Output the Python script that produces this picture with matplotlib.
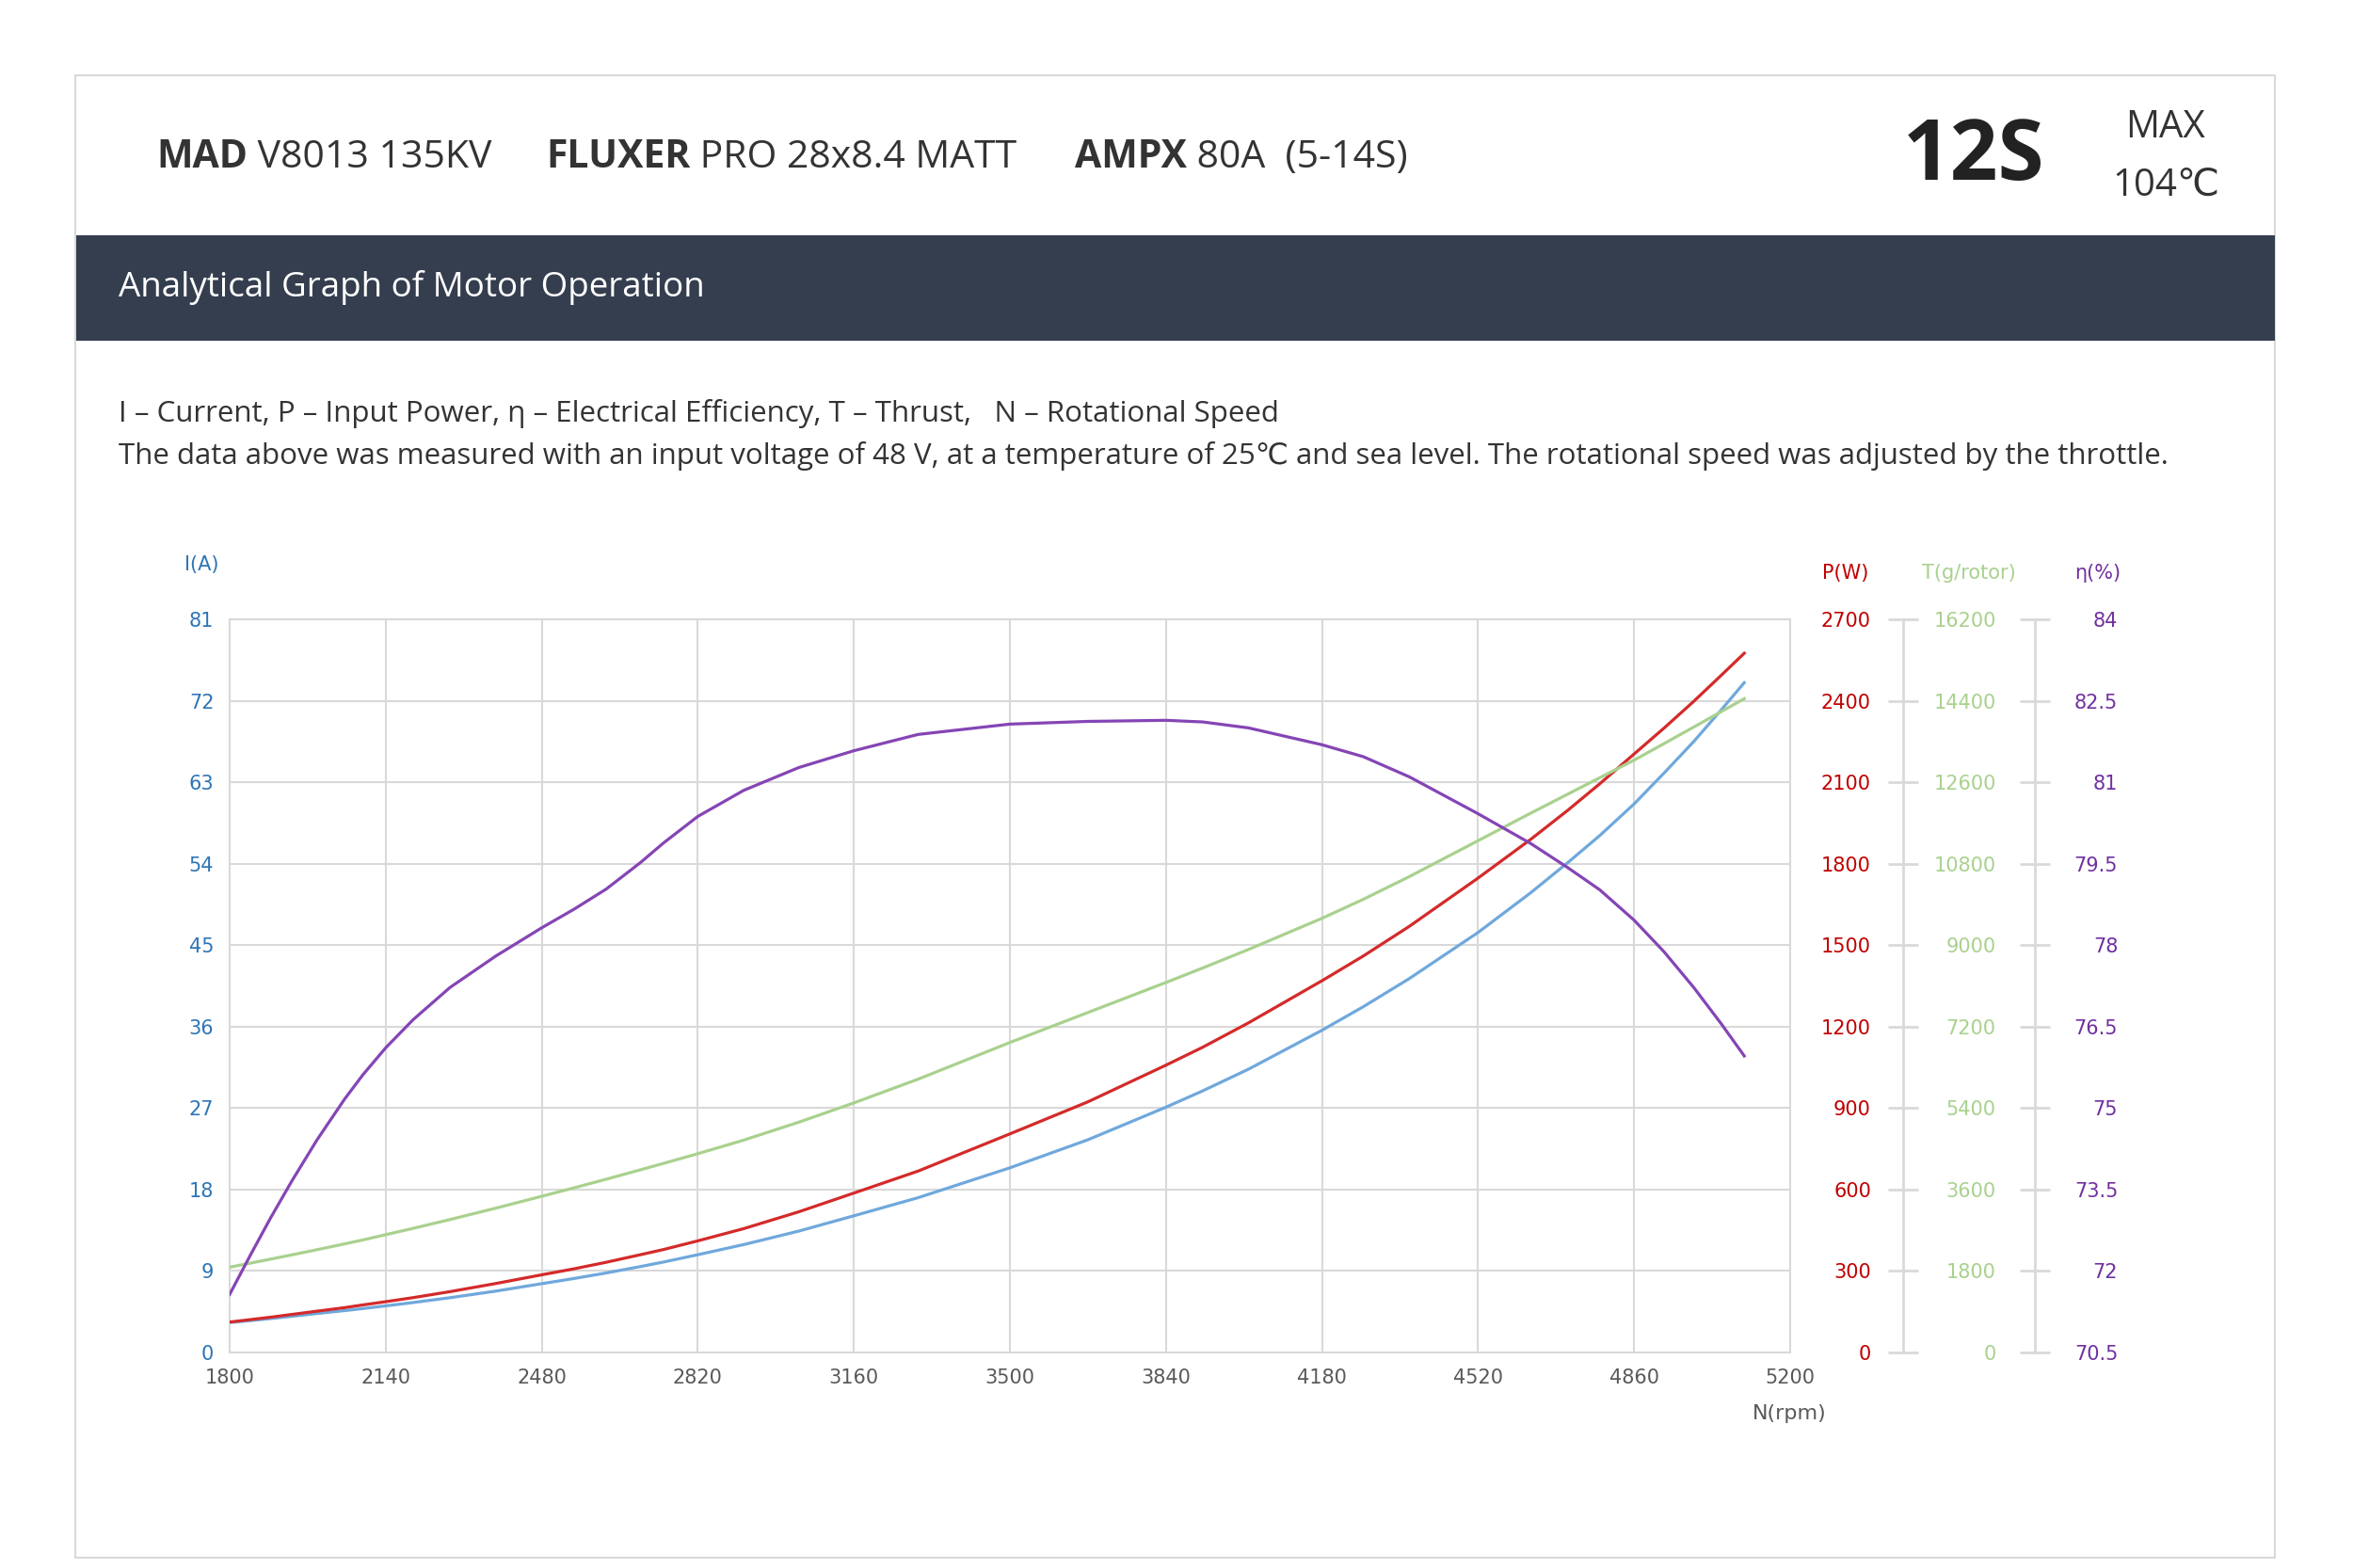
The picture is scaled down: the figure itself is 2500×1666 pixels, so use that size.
import matplotlib
matplotlib.use("Agg")
import matplotlib.pyplot as plt
import matplotlib.patches as patches

# readings (rpm)
rpm = [1800, 1845, 1890, 1935, 1990, 2050, 2090, 2140, 2200, 2280, 2380, 2480, 2550,
       2620, 2695, 2745, 2820, 2920, 3040, 3160, 3300, 3500, 3670, 3840, 3920, 4020,
       4180, 4270, 4370, 4520, 4635, 4715, 4785, 4860, 4925, 4990, 5050, 5100]
current_a = [3.3, 3.52, 3.75, 3.99, 4.3, 4.62, 4.85, 5.15, 5.52, 6.05, 6.78, 7.6, 8.17,
             8.78, 9.49, 9.99, 10.8, 11.92, 13.41, 15.1, 17.1, 20.4, 23.5, 27.1, 28.9, 31.3,
             35.6, 38.2, 41.3, 46.4, 50.8, 54.1, 57.1, 60.6, 64.0, 67.5, 71.0, 74.0]
power_w = [112, 121, 130, 140, 152, 165, 175, 187, 202, 224, 254, 286, 308,
           332, 360, 379, 411, 456, 518, 587, 668, 805, 923, 1058, 1124, 1214,
           1369, 1460, 1569, 1747, 1890, 1996, 2094, 2204, 2299, 2398, 2494, 2575]
thrust_g = [1885, 1974, 2064, 2156, 2270, 2398, 2486, 2603, 2743, 2937, 3189, 3451, 3637,
            3827, 4036, 4177, 4392, 4692, 5088, 5514, 6039, 6849, 7512, 8175, 8495, 8905,
            9593, 10013, 10513, 11308, 11918, 12334, 12698, 13088, 13452, 13819, 14161, 14446]
eff_pct = [71.57, 72.29, 72.99, 73.65, 74.41, 75.16, 75.61, 76.11, 76.63, 77.22, 77.80, 78.32, 78.66,
           79.03, 79.52, 79.88, 80.37, 80.85, 81.27, 81.58, 81.88, 82.07, 82.12, 82.14, 82.11, 82.00,
           81.69, 81.47, 81.10, 80.42, 79.87, 79.43, 79.02, 78.46, 77.88, 77.22, 76.55, 75.96]

x_ticks = [1800, 2140, 2480, 2820, 3160, 3500, 3840, 4180, 4520, 4860, 5200]
i_ticks = [0, 9, 18, 27, 36, 45, 54, 63, 72, 81]
p_ticks = [0, 300, 600, 900, 1200, 1500, 1800, 2100, 2400, 2700]
t_ticks = [0, 1800, 3600, 5400, 7200, 9000, 10800, 12600, 14400, 16200]
e_ticks = [70.5, 72, 73.5, 75, 76.5, 78, 79.5, 81, 82.5, 84]

C_I, C_P, C_T, C_E = '#6fa8dc', '#d42a2a', '#a9d18e', '#8545b5'
L_I, L_P, L_T, L_E = '#2e75b6', '#c00000', '#a9d18e', '#7030a0'
GRID = '#d9d9d9'

W, H = 2500, 1666
fig = plt.figure(figsize=(W / 100, H / 100), dpi=100)


def fx(px):
    return px / W


def fy(py):
    return 1 - py / H


HEAD = ['Open Sans', 'DejaVu Sans', 'Noto Sans CJK SC']

# plot box in pixels
PL, PR, PT, PB = 244, 1902, 658, 1437

# outer frame and dark band
fig.add_artist(patches.Rectangle((fx(80), fy(1655)), (2417 - 80) / W, (1655 - 80) / H,
                                 transform=fig.transFigure, fill=False, ec='#d9d9d9', lw=1.5))
fig.add_artist(patches.Rectangle((fx(81), fy(362)), (2417 - 81) / W, (362 - 250) / H,
                                 transform=fig.transFigure, fc='#343e4e', ec='none'))

# header line, bold name + regular rest
renderer = fig.canvas.get_renderer()
pieces = [(166, 'MAD', ' V8013 135KV'), (580, 'FLUXER', ' PRO 28x8.4 MATT'), (1142, 'AMPX', ' 80A  (5-14S)')]
for x0, b, r in pieces:
    t = fig.text(fx(x0), fy(178), b, fontsize=29.5, fontweight='bold', family=HEAD, color='#333333', va='baseline')
    ext = t.get_window_extent(renderer)
    fig.text(ext.x1 / W, fy(178), r, fontsize=29.5, family=HEAD, color='#333333', va='baseline')

fig.text(fx(2097), fy(191), '12S', fontsize=64, fontweight='bold', family=HEAD, color='#222222',
         ha='center', va='baseline')
fig.text(fx(2301), fy(146), 'MAX', fontsize=29, family=HEAD, color='#333333', ha='center', va='baseline')
fig.text(fx(2301), fy(208), '104℃', fontsize=29, family=HEAD, color='#333333', ha='center', va='baseline')

fig.text(fx(126), fy(305), 'Analytical Graph of Motor Operation', fontsize=26.5, family=HEAD,
         color='white', va='center')

fig.text(fx(126), fy(448), 'I – Current, P – Input Power, η – Electrical Efficiency, T – Thrust,   N – Rotational Speed',
         fontsize=22.5, family=HEAD, color='#333333', va='baseline')
fig.text(fx(126), fy(493), 'The data above was measured with an input voltage of 48 V, at a temperature of 25℃ '
         'and sea level. The rotational speed was adjusted by the throttle.',
         fontsize=22.5, family=HEAD, color='#333333', va='baseline')

# main plot, current on the left scale
ax = fig.add_axes([fx(PL), fy(PB), (PR - PL) / W, (PB - PT) / H])
ax.set_xlim(1800, 5200)
ax.set_ylim(0, 81)
ax.set_xticks(x_ticks)
ax.set_yticks(i_ticks)
ax.grid(True, color=GRID, lw=1.5)
ax.set_axisbelow(True)
for s in ax.spines.values():
    s.set_color(GRID)
    s.set_linewidth(1.5)
ax.tick_params(axis='x', length=0, pad=12, labelsize=15, labelcolor='#595959')
ax.tick_params(axis='y', length=0, pad=12, labelsize=15, labelcolor=L_I)

# other series in the same box, each with its own scale
ax_p2 = ax.twinx()
ax_t2 = ax.twinx()
ax_e2 = ax.twinx()
for a, lim in ((ax_p2, (0, 2700)), (ax_t2, (0, 16200)), (ax_e2, (70.5, 84))):
    a.set_ylim(*lim)
    a.axis('off')

ax_t2.plot(rpm, thrust_g, color=C_T, lw=2.3)
ax_p2.plot(rpm, power_w, color=C_P, lw=2.3)
ax.plot(rpm, current_a, color=C_I, lw=2.3)
ax_e2.plot(rpm, eff_pct, color=C_E, lw=2.3)


# scale bars at the right
def bar_axis(xpx, lim):
    a = fig.add_axes([fx(xpx), fy(PB), 1e-6, (PB - PT) / H])
    a.set_ylim(*lim)
    a.set_xticks([])
    a.patch.set_visible(False)
    for k in ('top', 'right', 'bottom'):
        a.spines[k].set_visible(False)
    a.spines['left'].set_color(GRID)
    a.spines['left'].set_linewidth(2)
    return a


ax_p = bar_axis(2022, (0, 2700))
ax_p.set_yticks(p_ticks, [str(v) for v in p_ticks])
ax_p.tick_params(axis='y', direction='inout', length=23, width=2, color=GRID, pad=13,
                 labelsize=15, labelcolor=L_P)

ax_t = ax_p.twinx()
ax_t.set_ylim(0, 16200)
for k in ax_t.spines:
    ax_t.spines[k].set_visible(False)
ax_t.set_yticks(t_ticks, [str(v) for v in t_ticks], ha='right')
ax_t.tick_params(axis='y', length=0, pad=71, labelsize=15, labelcolor=L_T)

ax_e = bar_axis(2162, (70.5, 84))
ax_e.yaxis.tick_right()
ax_e.set_yticks(e_ticks, ['{:g}'.format(v) for v in e_ticks], ha='right')
ax_e.tick_params(axis='y', direction='inout', length=23, width=2, color=GRID, pad=52,
                 labelsize=15, labelcolor=L_E)

# axis titles
fig.text(fx(214), fy(600), 'I(A)', fontsize=15, color=L_I, ha='center', va='center')
fig.text(fx(1961), fy(609), 'P(W)', fontsize=15, color=L_P, ha='center', va='center')
fig.text(fx(2092), fy(609), 'T(g/rotor)', fontsize=15, color=L_T, ha='center', va='center')
fig.text(fx(2229), fy(609), 'η(%)', fontsize=15, color=L_E, ha='center', va='center')
fig.text(fx(1901), fy(1502), 'N(rpm)', fontsize=16, color='#595959', ha='center', va='center')

fig.savefig('out.png', dpi=100, facecolor='white')
